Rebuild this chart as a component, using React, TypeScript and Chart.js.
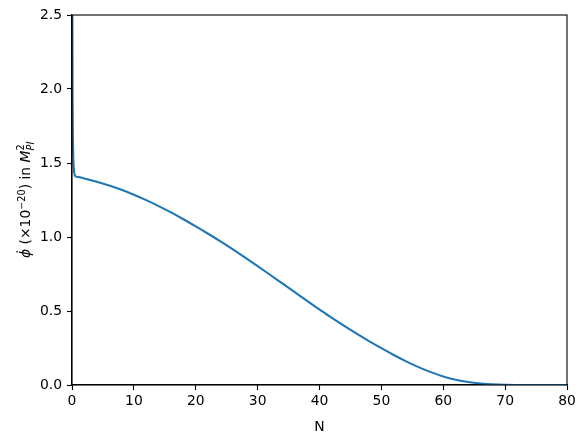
import React, { useEffect, useRef } from "react";
import { Chart, registerables } from "chart.js";

Chart.register(...registerables);

const nValues = [0, 0.05, 0.1, 0.2, 0.3, 0.5, 1, 2, 4, 6, 8, 10, 12, 14, 16, 18, 20, 22, 24, 26, 28, 30, 32, 34, 36, 38, 40, 42, 44, 46, 48, 50, 52, 54, 56, 58, 60, 62, 64, 66, 68, 70, 72, 74, 76, 78, 80];
const phiDot = [5.0, 2.6, 1.9, 1.55, 1.46, 1.413, 1.405, 1.395, 1.373, 1.348, 1.319, 1.286, 1.249, 1.209, 1.166, 1.12, 1.072, 1.022, 0.97, 0.916, 0.86, 0.803, 0.745, 0.686, 0.627, 0.568, 0.51, 0.453, 0.399, 0.347, 0.297, 0.249, 0.203, 0.16, 0.121, 0.087, 0.058, 0.036, 0.02, 0.01, 0.0045, 0.0015, 0.0004, 0.0, 0.0, 0.0, 0.0];
const xTicks = [0, 10, 20, 30, 40, 50, 60, 70, 80];
const yTicks = [0, 0.5, 1.0, 1.5, 2.0, 2.5];
const xLabel = "N";

const FONT = "'DejaVu Sans', sans-serif";

type Seg = { text: string; size: number; italic?: boolean; dy?: number; stackWith?: Seg };

const yTitleSegs: Seg[] = [
  { text: "ϕ̇", size: 13.9, italic: true },
  { text: " (×10", size: 13.9 },
  { text: "−20", size: 9.7, dy: -5.5 },
  { text: ") in ", size: 13.9 },
  { text: "M", size: 13.9, italic: true },
  { text: "2", size: 9.7, dy: -6, stackWith: { text: "Pl", size: 9.7, italic: true, dy: 3.5 } },
];

const fontOf = (s: Seg) => `${s.italic ? "italic " : ""}${s.size}px ${FONT}`;

const frameAndTitle = {
  id: "frameAndTitle",
  afterDatasetsDraw(chart: any) {
    const { ctx, chartArea } = chart;
    ctx.save();
    ctx.strokeStyle = "#000";
    ctx.lineWidth = 1.1;
    ctx.strokeRect(chartArea.left, chartArea.top, chartArea.right - chartArea.left, chartArea.bottom - chartArea.top);
    ctx.restore();
  },
  afterDraw(chart: any) {
    const { ctx, chartArea } = chart;
    ctx.save();
    let total = 0;
    const widths: number[] = [];
    for (const s of yTitleSegs) {
      ctx.font = fontOf(s);
      let w = ctx.measureText(s.text).width;
      if (s.stackWith) {
        ctx.font = fontOf(s.stackWith);
        w = Math.max(w, ctx.measureText(s.stackWith.text).width);
      }
      widths.push(w);
      total += w;
    }
    const cx = 25;
    const cy = (chartArea.top + chartArea.bottom) / 2;
    ctx.translate(cx, cy);
    ctx.rotate(-Math.PI / 2);
    ctx.fillStyle = "#000";
    ctx.textBaseline = "alphabetic";
    ctx.textAlign = "left";
    let x = -total / 2;
    const base = 5;
    yTitleSegs.forEach((s, i) => {
      ctx.font = fontOf(s);
      ctx.fillText(s.text, x, base + (s.dy || 0));
      if (s.stackWith) {
        ctx.font = fontOf(s.stackWith);
        ctx.fillText(s.stackWith.text, x, base + (s.stackWith.dy || 0));
      }
      x += widths[i];
    });
    ctx.restore();
  },
};

export default function App() {
  const ref = useRef<HTMLCanvasElement | null>(null);
  useEffect(() => {
    document.body.style.margin = "0";
    const canvas = ref.current!;
    const chart = new Chart(canvas, {
      type: "line",
      data: {
        datasets: [
          {
            data: nValues.map((n, i) => ({ x: n, y: phiDot[i] })),
            borderColor: "#1f77b4",
            borderWidth: 2.1,
            pointRadius: 0,
            fill: false,
            cubicInterpolationMode: "monotone",
          },
        ],
      },
      options: {
        animation: false,
        responsive: false,
        devicePixelRatio: 1,
        layout: { padding: { left: 0, top: 15, right: 18, bottom: 0 } },
        plugins: { legend: { display: false }, tooltip: { enabled: false } },
        scales: {
          x: {
            type: "linear",
            min: 0,
            max: 80,
            afterBuildTicks: (scale: any) => {
              scale.ticks = xTicks.map((v) => ({ value: v }));
            },
            afterFit: (scale: any) => {
              scale.height = 53;
            },
            ticks: {
              color: "#000",
              font: { family: FONT, size: 13.9 },
              padding: 3,
              maxRotation: 0,
              autoSkip: false,
              callback: (v: any) => String(v),
            },
            grid: { drawOnChartArea: false, drawTicks: true, tickLength: 5, tickWidth: 1.1, tickColor: "#000" },
            border: { display: true, color: "#000", width: 1.1 },
            title: { display: true, text: xLabel, color: "#000", font: { family: FONT, size: 13.9 }, padding: { top: 0, bottom: 2 } },
          },
          y: {
            type: "linear",
            min: 0,
            max: 2.5,
            afterBuildTicks: (scale: any) => {
              scale.ticks = yTicks.map((v) => ({ value: v }));
            },
            afterFit: (scale: any) => {
              scale.width = 72;
            },
            ticks: {
              color: "#000",
              font: { family: FONT, size: 13.9 },
              padding: 5,
              autoSkip: false,
              callback: (v: any) => Number(v).toFixed(1),
            },
            grid: { drawOnChartArea: false, drawTicks: true, tickLength: 5, tickWidth: 1.1, tickColor: "#000" },
            border: { display: true, color: "#000", width: 1.1 },
          },
        },
      },
      plugins: [frameAndTitle],
    } as any);
    return () => chart.destroy();
  }, []);
  return (
    <div style={{ position: "absolute", left: 0, top: 0, width: 585, height: 438, background: "#fff" }}>
      <canvas ref={ref} width={585} height={438} />
    </div>
  );
}
